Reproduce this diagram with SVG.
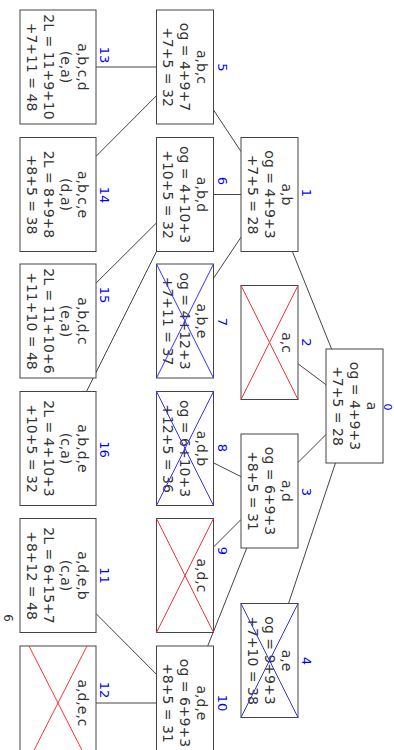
<svg xmlns="http://www.w3.org/2000/svg" width="394" height="750" viewBox="0 0 394 750">
<style>
.box{fill:#fff;stroke:#444;stroke-width:1}
.t{font-family:"DejaVu Sans",sans-serif;font-size:14px;fill:#333;text-anchor:middle}
.lbl{font-family:"DejaVu Sans",sans-serif;font-size:13px;fill:#00f;text-anchor:middle}
.edge{stroke:#444;stroke-width:1;fill:none}
.xr{stroke:#f33;stroke-width:1}
.xb{stroke:#33f;stroke-width:1}
</style>
<rect x="0" y="0" width="394" height="750" fill="#fff"/>
<g transform="translate(394,0) rotate(90)">
<g id="connectors">
<line class="edge" x1="349" y1="62.41" x2="251.5" y2="101.59"/>
<line class="edge" x1="384.71" y1="68" x2="363.79" y2="96"/>
<line class="edge" x1="434.5" y1="68" x2="462.5" y2="96"/>
<line class="edge" x1="463" y1="58.54" x2="603.5" y2="105.46"/>
<line class="edge" x1="151.5" y1="153" x2="110" y2="180.5"/>
<line class="edge" x1="194.5" y1="153" x2="194.5" y2="180.5"/>
<line class="edge" x1="237.17" y1="153" x2="278.33" y2="180.5"/>
<line class="edge" x1="476.67" y1="153" x2="462.83" y2="180.5"/>
<line class="edge" x1="519.5" y1="153" x2="547" y2="180.5"/>
<line class="edge" x1="548" y1="147.22" x2="646" y2="186.28"/>
<line class="edge" x1="67" y1="237.5" x2="67" y2="298"/>
<line class="edge" x1="95.61" y1="237.5" x2="156.35" y2="298"/>
<line class="edge" x1="222.89" y1="237.5" x2="283.15" y2="298"/>
<line class="edge" x1="251.5" y1="237.5" x2="391.5" y2="307.5"/>
<line class="edge" x1="674.39" y1="237.5" x2="613.65" y2="298"/>
<line class="edge" x1="703" y1="237.5" x2="703" y2="298"/>
</g>
<g id="n0">
<rect class="box" x="349" y="11" width="114" height="57"/>
<text class="lbl" style="font-size:11px" x="407" y="10">0</text>
<text class="t" x="406" y="27.5">a</text>
<text class="t" x="406" y="44.5">og = 4+9+3</text>
<text class="t" x="406" y="61.5">+7+5 = 28</text>
</g>
<g id="n1">
<rect class="box" x="137.5" y="96" width="114" height="57"/>
<text class="lbl" x="193" y="92">1</text>
<text class="t" x="194.5" y="112.5">a,b</text>
<text class="t" x="194.5" y="129.5">og = 4+9+3</text>
<text class="t" x="194.5" y="146.5">+7+5 = 28</text>
</g>
<g id="n2">
<rect class="box" x="285.5" y="96" width="114" height="57"/>
<line class="xr" x1="285.5" y1="96" x2="399.5" y2="153"/>
<line class="xr" x1="285.5" y1="153" x2="399.5" y2="96"/>
<text class="lbl" x="342.5" y="92">2</text>
<text class="t" x="342.5" y="112.5">a,c</text>
</g>
<g id="n3">
<rect class="box" x="434" y="96" width="114" height="57"/>
<text class="lbl" x="492" y="92">3</text>
<text class="t" x="491" y="112.5">a,d</text>
<text class="t" x="491" y="129.5">og = 6+9+3</text>
<text class="t" x="491" y="146.5">+8+5 = 31</text>
</g>
<g id="n4">
<rect class="box" x="603.5" y="96" width="114" height="57"/>
<text class="lbl" x="661" y="92">4</text>
<text class="t" x="660.5" y="112.5">a,e</text>
<text class="t" x="660.5" y="129.5">og = 9+9+3</text>
<text class="t" x="660.5" y="146.5">+7+10 = 38</text>
<line class="xb" x1="603.5" y1="96" x2="717.5" y2="153"/>
<line class="xb" x1="603.5" y1="153" x2="717.5" y2="96"/>
</g>
<g id="n5">
<rect class="box" x="10" y="180.5" width="114" height="57"/>
<text class="lbl" x="67.5" y="176.5">5</text>
<text class="t" x="67" y="197">a,b,c</text>
<text class="t" x="67" y="214">og = 4+9+7</text>
<text class="t" x="67" y="231">+7+5 = 32</text>
</g>
<g id="n6">
<rect class="box" x="137.5" y="180.5" width="114" height="57"/>
<text class="lbl" x="181" y="176.5">6</text>
<text class="t" x="194.5" y="197">a,b,d</text>
<text class="t" x="194.5" y="214">og = 4+10+3</text>
<text class="t" x="194.5" y="231">+10+5 = 32</text>
</g>
<g id="n7">
<rect class="box" x="264" y="180.5" width="114" height="57"/>
<text class="lbl" x="322" y="176.5">7</text>
<text class="t" x="321" y="197">a,b,e</text>
<text class="t" x="321" y="214">og = 4+12+3</text>
<text class="t" x="321" y="231">+7+11 = 37</text>
<line class="xb" x1="264" y1="180.5" x2="378" y2="237.5"/>
<line class="xb" x1="264" y1="237.5" x2="378" y2="180.5"/>
</g>
<g id="n8">
<rect class="box" x="391.5" y="180.5" width="114" height="57"/>
<text class="lbl" x="448" y="176.5">8</text>
<text class="t" x="448.5" y="197">a,d,b</text>
<text class="t" x="448.5" y="214">og = 6+10+3</text>
<text class="t" x="448.5" y="231">+12+5 = 36</text>
<line class="xb" x1="391.5" y1="180.5" x2="505.5" y2="237.5"/>
<line class="xb" x1="391.5" y1="237.5" x2="505.5" y2="180.5"/>
</g>
<g id="n9">
<rect class="box" x="518.5" y="180.5" width="114" height="57"/>
<line class="xr" x1="518.5" y1="180.5" x2="632.5" y2="237.5"/>
<line class="xr" x1="518.5" y1="237.5" x2="632.5" y2="180.5"/>
<text class="lbl" x="551" y="176.5">9</text>
<text class="t" x="575.5" y="197">a,d,c</text>
</g>
<g id="n10">
<rect class="box" x="646" y="180.5" width="114" height="57"/>
<text class="lbl" x="703" y="176.5">10</text>
<text class="t" x="703" y="197">a,d,e</text>
<text class="t" x="703" y="214">og = 6+9+3</text>
<text class="t" x="703" y="231">+8+5 = 31</text>
</g>
<g id="n13">
<rect class="box" x="10" y="298" width="114" height="76"/>
<text class="lbl" x="55" y="294.5">13</text>
<text class="t" x="67" y="316">a,b,c,d</text>
<text class="t" x="67" y="333">(e,a)</text>
<text class="t" x="67" y="350">2L = 11+9+10</text>
<text class="t" x="67" y="367">+7+11 = 48</text>
</g>
<g id="n14">
<rect class="box" x="137.5" y="298" width="114" height="76"/>
<text class="lbl" x="195" y="294.5">14</text>
<text class="t" x="194.5" y="316">a,b,c,e</text>
<text class="t" x="194.5" y="333">(d,a)</text>
<text class="t" x="194.5" y="350">2L = 8+9+8</text>
<text class="t" x="194.5" y="367">+8+5 = 38</text>
</g>
<g id="n15">
<rect class="box" x="264" y="298" width="114" height="76"/>
<text class="lbl" x="295" y="294.5">15</text>
<text class="t" x="321" y="316">a,b,d,c</text>
<text class="t" x="321" y="333">(e,a)</text>
<text class="t" x="321" y="350">2L = 11+10+6</text>
<text class="t" x="321" y="367">+11+10 = 48</text>
</g>
<g id="n16">
<rect class="box" x="391.5" y="298" width="114" height="76"/>
<text class="lbl" x="449.5" y="294.5">16</text>
<text class="t" x="448.5" y="316">a,b,d,e</text>
<text class="t" x="448.5" y="333">(c,a)</text>
<text class="t" x="448.5" y="350">2L = 4+10+3</text>
<text class="t" x="448.5" y="367">+10+5 = 32</text>
</g>
<g id="n11">
<rect class="box" x="518.5" y="298" width="114" height="76"/>
<text class="lbl" x="575.5" y="294.5">11</text>
<text class="t" x="575.5" y="316">a,d,e,b</text>
<text class="t" x="575.5" y="333">(c,a)</text>
<text class="t" x="575.5" y="350">2L = 6+15+7</text>
<text class="t" x="575.5" y="367">+8+12 = 48</text>
</g>
<g id="n12">
<rect class="box" x="646" y="298" width="114" height="76"/>
<line class="xr" x1="646" y1="365" x2="760" y2="307"/>
<line class="xr" x1="646" y1="307" x2="760" y2="365"/>
<text class="lbl" x="690" y="294.5">12</text>
<text class="t" x="703" y="316">a,d,e,c</text>
</g>
<text class="t" style="font-size:12px" x="618" y="390">6</text>
</g>
</svg>
